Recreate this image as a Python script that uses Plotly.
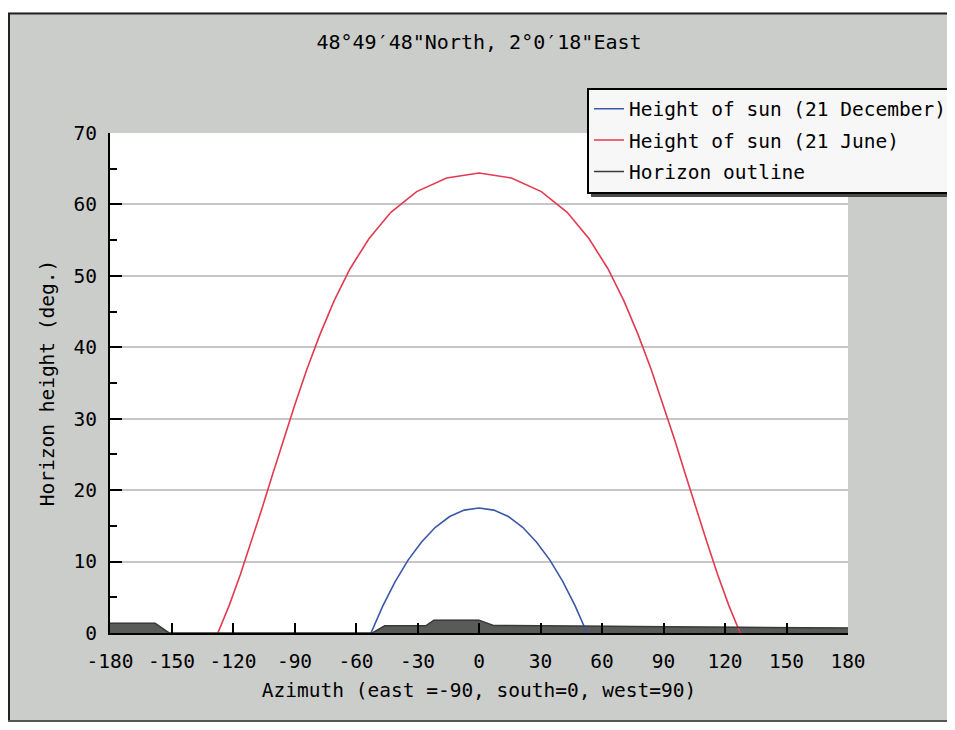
import plotly.graph_objects as go

# ---- data ----
june_az = [-127.4, -121.8, -116.4, -111.2, -105.9, -100.7, -95.4, -89.8, -84.0, -77.7,
           -70.7, -62.9, -53.7, -43.0, -30.4, -15.8, 0.0, 15.8, 30.4, 43.0, 53.7, 62.9,
           70.7, 77.7, 84.0, 89.8, 95.4, 100.7, 105.9, 111.2, 116.4, 121.8, 127.4]
june_h = [0.0, 3.9, 8.2, 12.7, 17.4, 22.2, 27.1, 32.0, 36.9, 41.7, 46.5, 51.0, 55.2,
          58.9, 61.8, 63.7, 64.4, 63.7, 61.8, 58.9, 55.2, 51.0, 46.5, 41.7, 36.9, 32.0,
          27.1, 22.2, 17.4, 12.7, 8.2, 3.9, 0.0]

dec_az = [-52.7, -46.9, -40.9, -34.6, -28.1, -21.3, -14.3, -7.2, 0.0, 7.2, 14.3, 21.3,
          28.1, 34.6, 40.9, 46.9, 52.7]
dec_h = [0.0, 3.8, 7.2, 10.2, 12.7, 14.8, 16.3, 17.2, 17.5, 17.2, 16.3, 14.8, 12.7,
         10.2, 7.2, 3.8, 0.0]

horizon_az = [-180, -158, -151, -52, -46, -26, -22, 0, 7, 60, 120, 180]
horizon_h = [1.35, 1.35, 0.0, 0.0, 1.0, 1.0, 1.8, 1.8, 1.05, 0.95, 0.85, 0.7]

x_ticks = [-180, -150, -120, -90, -60, -30, 0, 30, 60, 90, 120, 150, 180]
y_ticks = [0, 10, 20, 30, 40, 50, 60, 70]

title_text = "48°49′48\"North, 2°0′18\"East"
x_title = "Azimuth (east =-90, south=0, west=90)"
y_title = "Horizon height (deg.)"

FONT = "DejaVu Sans Mono"
# the page body adds an 8px margin, so the figure is sized to fit the window
OFF = 8
W, H = 940, 714
ML = 102
MR = W - (848 - OFF)
MT = 125
MB = H - 625
PW, PH = W - ML - MR, H - MT - MB


def px(sx):
    """screen x pixel -> paper coordinate"""
    return (sx - OFF - ML) / PW


def py(sy):
    """screen y pixel -> paper coordinate"""
    return (H - MB - (sy - OFF)) / PH


fig = go.Figure()

fig.add_trace(go.Scatter(x=horizon_az, y=horizon_h, mode="lines", fill="tozeroy",
                         fillcolor="#5a5a5a", line=dict(color="#5a5a5a", width=0.5),
                         showlegend=False, hoverinfo="skip"))
fig.add_trace(go.Scatter(x=dec_az, y=dec_h, mode="lines", name="Height of sun (21 December)",
                         legendgroup="dec", line=dict(color="#3a58a8", width=1.6)))
fig.add_trace(go.Scatter(x=june_az, y=june_h, mode="lines", name="Height of sun (21 June)",
                         legendgroup="june", line=dict(color="#e23a50", width=1.6)))
fig.add_trace(go.Scatter(x=horizon_az, y=horizon_h, mode="lines", name="Horizon outline",
                         legendgroup="hor", line=dict(color="#3a3a3a", width=1.5)))

shapes = [
    # white strip above the scanned frame
    dict(type="rect", xref="paper", yref="paper", x0=px(0), x1=px(970), y0=py(12.5), y1=py(0),
         fillcolor="white", line=dict(width=0), layer="below"),
    # frame lines
    dict(type="line", xref="paper", yref="paper", x0=px(9), x1=px(9), y0=py(13), y1=py(730),
         line=dict(color="#222222", width=2), layer="below"),
    dict(type="line", xref="paper", yref="paper", x0=px(8), x1=px(970), y0=py(13.5), y1=py(13.5),
         line=dict(color="#222222", width=2), layer="below"),
    dict(type="line", xref="paper", yref="paper", x0=px(8), x1=px(970), y0=py(OFF + H - 1),
         y1=py(OFF + H - 1), line=dict(color="#555555", width=2), layer="below"),
    # legend shadow
    dict(type="rect", xref="paper", yref="paper", x0=px(591), x1=px(975), y0=py(197), y1=py(93),
         fillcolor="#4a4a4a", line=dict(width=0), layer="above"),
]

fig.update_layout(
    width=W, height=H,
    margin=dict(l=ML, r=MR, t=MT, b=MB, autoexpand=False),
    paper_bgcolor="#cbcdcb",
    plot_bgcolor="white",
    font=dict(family=FONT, size=19.5, color="black"),
    title=dict(text=title_text, x=0.5, xref="paper", xanchor="center",
               y=1 - (42 - OFF) / H, yref="container", yanchor="middle",
               font=dict(family=FONT, size=20, color="black")),
    showlegend=True,
    legend=dict(x=px(587), y=py(87.5), xanchor="left", yanchor="top",
                bgcolor="#f7f7f7", bordercolor="black", borderwidth=2,
                font=dict(family=FONT, size=19.5, color="black"),
                traceorder="grouped", tracegroupgap=3),
    shapes=shapes,
    xaxis=dict(range=[-180, 180], tickvals=x_ticks, ticktext=[str(v) for v in x_ticks],
               ticks="inside", ticklen=10, tickwidth=2, tickcolor="black",
               showline=True, linecolor="black", linewidth=2,
               showgrid=False, zeroline=False, ticklabelstandoff=10,
               title=dict(text=x_title, standoff=11, font=dict(family=FONT, size=19.5))),
    yaxis=dict(range=[0, 70], tickvals=y_ticks, ticktext=[str(v) for v in y_ticks],
               ticks="inside", ticklen=12, tickwidth=1.5, tickcolor="black",
               minor=dict(dtick=5, tick0=0, ticks="inside", ticklen=7, tickcolor="black",
                          tickwidth=1.5, showgrid=False),
               showline=True, linecolor="black", linewidth=2,
               showgrid=True, gridcolor="#c6c6c6", gridwidth=1.5,
               zeroline=False, ticklabelstandoff=7,
               title=dict(text=y_title, standoff=14, font=dict(family=FONT, size=19.5))),
)

fig.write_html("out.html")
